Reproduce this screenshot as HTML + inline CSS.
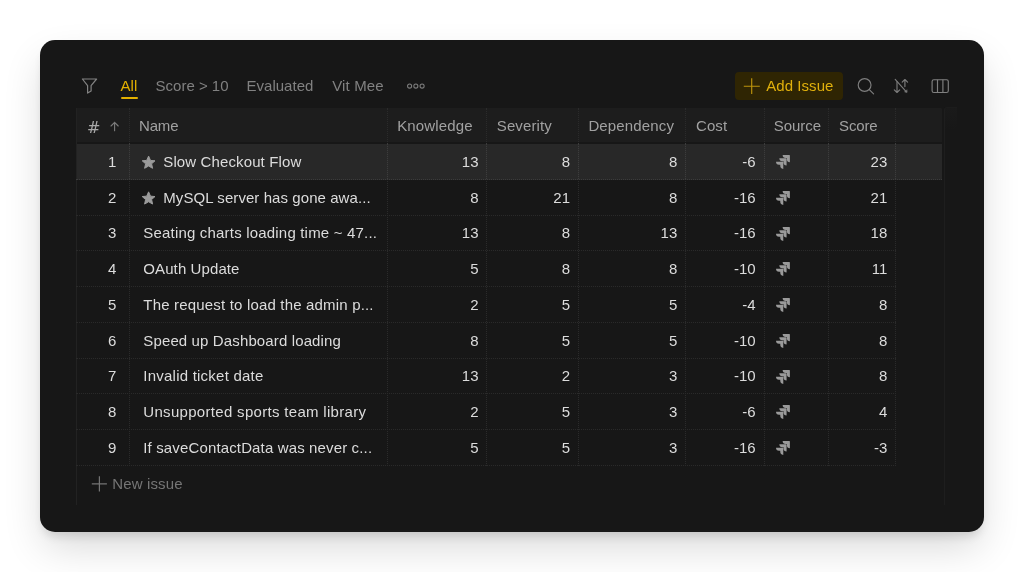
<!DOCTYPE html>
<html><head><meta charset="utf-8"><title>Issues</title>
<style>
*{box-sizing:border-box;margin:0;padding:0}
html,body{width:1024px;height:572px;background:#fff;overflow:hidden}
body{font-family:"Liberation Sans",sans-serif;font-size:15px;position:relative;color:#ddd}
.card{position:absolute;left:40px;top:40px;width:943.6px;height:491.6px;background:#171717;border-radius:15px;
box-shadow:0 18px 40px -4px rgba(0,0,0,.16),0 7px 10px -3px rgba(0,0,0,.12)}
.a{position:absolute}
.t{position:absolute;height:18px;line-height:18px;white-space:nowrap;font-size:15px}
.tab{color:#818181;top:77px}
.act{color:#e3b000}
.ht{color:#a1a1a1;top:116.6px;letter-spacing:.15px}
.c{color:#dcdcdc;letter-spacing:.12px}
.n{color:#dcdcdc;text-align:right;width:60px}
.v{position:absolute;top:108px;width:0;height:357.5px;border-left:1px dotted #2b2b2b}
.h{position:absolute;left:76px;height:0;width:820px;border-top:1px dotted #2a2a2a}
svg{position:absolute;overflow:visible}
</style></head><body>
<div class="card"></div>
<svg style="left:0;top:0" width="1024" height="572" viewBox="0 0 1024 572" fill="none">
<path d="M82.4 79 H96.6 L91.1 85.6 V91 L87.6 93.1 V85.6 Z" stroke="#838383" stroke-width="1.2" stroke-linejoin="round"/>
<circle cx="409.6" cy="86.1" r="2.05" stroke="#7d7d7d" stroke-width="1.05"/>
<circle cx="415.85" cy="86.1" r="2.05" stroke="#7d7d7d" stroke-width="1.05"/>
<circle cx="422.1" cy="86.1" r="2.05" stroke="#7d7d7d" stroke-width="1.05"/>
<circle cx="864.6" cy="85" r="6.4" stroke="#7e7e7e" stroke-width="1.15"/><path d="M869.3 89.7 L873.6 93.8" stroke="#7e7e7e" stroke-width="1.15" stroke-linecap="round"/>
<g stroke="#7c7c7c" stroke-width="1.15" stroke-linecap="round" stroke-linejoin="round"><path d="M897 81.5 V92.3 M894.3 89.8 L897 92.5 L899.7 89.8"/><path d="M904.9 86.6 V79.6 M902.2 82.2 L904.9 79.5 L907.6 82.2"/><path d="M895.2 79.4 L906.4 91.8"/><path d="M906.8 92.2 L904.6 92 L906.6 90 Z" fill="#7c7c7c" stroke-width=".6"/></g>
<rect x="932.1" y="79.7" width="16.2" height="12.8" rx="1.8" stroke="#808080" stroke-width="1.15"/><path d="M937.5 79.7 V92.5 M942.9 79.7 V92.5" stroke="#808080" stroke-width="1.15"/>
</svg>
<div class="t tab act" style="left:120.6px">All</div>
<div class="a" style="left:120.5px;top:97px;width:17.2px;height:2px;background:#e3b000;border-radius:1px"></div>
<div class="t tab" style="left:155.6px">Score &gt; 10</div>
<div class="t tab" style="left:246.6px">Evaluated</div>
<div class="t tab" style="left:332.2px;letter-spacing:.15px">Vit Mee</div>
<div class="a" style="left:734.5px;top:72px;width:108.8px;height:28px;background:#2f2503;border-radius:4px"></div>
<svg style="left:0;top:0" width="1024" height="572" viewBox="0 0 1024 572"><path d="M743.8 86.2 H759.8 M751.7 78.2 V94" stroke="#bd940c" stroke-width="1.15"/></svg>
<div class="t" style="left:766.2px;top:77px;color:#e0b00c;letter-spacing:.06px">Add Issue</div>
<div class="a" style="left:76px;top:108px;width:866.4px;height:34.2px;background:#1d1d1d;border-radius:1px 1px 0 0"></div>
<div class="a" style="left:76px;top:143.5px;width:866.4px;height:36.50px;background:#282828"></div>
<div class="a" style="left:944px;top:106.5px;width:13px;height:398px;border-left:1px solid #1e1e1e;border-top:1px solid #1c1c1c;border-radius:3px 0 0 0;background:linear-gradient(#1a1a1a,#171717 22px)"></div>
<div class="a" style="left:76px;top:108px;width:1px;height:396.5px;background:#222"></div>
<div class="v" style="left:128.5px;height:358px"></div>
<div class="v" style="left:386.5px;height:358px"></div>
<div class="v" style="left:486.0px;height:358px"></div>
<div class="v" style="left:578.0px;height:358px"></div>
<div class="v" style="left:685.0px;height:358px"></div>
<div class="v" style="left:763.5px;height:358px"></div>
<div class="v" style="left:828.0px;height:358px"></div>
<div class="v" style="left:895.0px;height:358px"></div>
<div class="h" style="top:179px"></div>
<div class="h" style="top:215px"></div>
<div class="h" style="top:250px"></div>
<div class="h" style="top:286px"></div>
<div class="h" style="top:322px"></div>
<div class="h" style="top:358px"></div>
<div class="h" style="top:393px"></div>
<div class="h" style="top:429px"></div>
<div class="h" style="top:465px"></div>
<div class="h" style="top:179px;width:866.4px;border-top-color:#3c3c3c"></div>
<div class="v" style="left:128.5px;top:143px;height:36px;border-left-color:#3c3c3c"></div>
<div class="v" style="left:386.5px;top:143px;height:36px;border-left-color:#3c3c3c"></div>
<div class="v" style="left:486.0px;top:143px;height:36px;border-left-color:#3c3c3c"></div>
<div class="v" style="left:578.0px;top:143px;height:36px;border-left-color:#3c3c3c"></div>
<div class="v" style="left:685.0px;top:143px;height:36px;border-left-color:#3c3c3c"></div>
<div class="v" style="left:763.5px;top:143px;height:36px;border-left-color:#3c3c3c"></div>
<div class="v" style="left:828.0px;top:143px;height:36px;border-left-color:#3c3c3c"></div>
<div class="v" style="left:895.0px;top:143px;height:36px;border-left-color:#3c3c3c"></div>
<div class="t" style="left:87.3px;top:119.3px;color:#a8a8a8;font-family:'DejaVu Sans',sans-serif;font-size:15.2px;letter-spacing:0;transform:scaleX(1.06);transform-origin:0 50%">#</div>
<svg style="left:0;top:0" width="1024" height="572" viewBox="0 0 1024 572" fill="none"><path d="M114.6 130.8 V122.4 M111 126 L114.6 122.3 L118.2 126" stroke="#7c7c7c" stroke-width="1.1" stroke-linecap="round" stroke-linejoin="round"/></svg>
<div class="t ht" style="left:139px;letter-spacing:-0.15px">Name</div>
<div class="t ht" style="left:397.2px;letter-spacing:0.16px">Knowledge</div>
<div class="t ht" style="left:496.8px;letter-spacing:0.11px">Severity</div>
<div class="t ht" style="left:588.4px;letter-spacing:0.15px">Dependency</div>
<div class="t ht" style="left:696px;letter-spacing:0.09px">Cost</div>
<div class="t ht" style="left:773.8px;letter-spacing:-0.04px">Source</div>
<div class="t ht" style="left:839px;letter-spacing:-0.12px">Score</div>
<div class="t n" style="left:56.400000000000006px;top:152.95px">1</div>
<svg style="left:0;top:0" width="1024" height="572" viewBox="0 0 1024 572"><path transform="translate(148.6 162.70)" d="M0 -6.6 L1.9 -2.3 L6.4 -1.9 L3 1.1 L4 5.6 L0 3.3 L-4 5.6 L-3 1.1 L-6.4 -1.9 L-1.9 -2.3 Z" fill="#9b9b9b" stroke="#9b9b9b" stroke-width="1" stroke-linejoin="round"/></svg>
<div class="t c" style="left:163.3px;top:152.95px;letter-spacing:0.12px">Slow Checkout Flow</div>
<div class="t n" style="left:418.5px;top:152.95px">13</div>
<div class="t n" style="left:510.0px;top:152.95px">8</div>
<div class="t n" style="left:617.3px;top:152.95px">8</div>
<div class="t n" style="left:695.7px;top:152.95px">-6</div>
<div class="t n" style="left:827.3px;top:152.95px">23</div>
<svg style="left:775.5px;top:155.10px" width="13.9" height="13.9" viewBox="0 0 24 24"><path d="M11.571 11.513H0a5.218 5.218 0 0 0 5.232 5.215h2.13v2.057A5.215 5.215 0 0 0 12.575 24V12.518a1.005 1.005 0 0 0-1.005-1.005zm5.723-5.756H5.736a5.215 5.215 0 0 0 5.215 5.214h2.129v2.058a5.218 5.218 0 0 0 5.215 5.214V6.758a1.001 1.001 0 0 0-1.001-1.001zM23.013 0H11.455a5.215 5.215 0 0 0 5.215 5.215h2.129v2.057A5.215 5.215 0 0 0 24 12.483V1.005A1.001 1.001 0 0 0 23.013 0Z" fill="#9a9a9a"/></svg>
<div class="t n" style="left:56.400000000000006px;top:188.70px">2</div>
<svg style="left:0;top:0" width="1024" height="572" viewBox="0 0 1024 572"><path transform="translate(148.6 198.45)" d="M0 -6.6 L1.9 -2.3 L6.4 -1.9 L3 1.1 L4 5.6 L0 3.3 L-4 5.6 L-3 1.1 L-6.4 -1.9 L-1.9 -2.3 Z" fill="#9b9b9b" stroke="#9b9b9b" stroke-width="1" stroke-linejoin="round"/></svg>
<div class="t c" style="left:163.3px;top:188.70px;letter-spacing:0.07px">MySQL server has gone awa...</div>
<div class="t n" style="left:418.5px;top:188.70px">8</div>
<div class="t n" style="left:510.0px;top:188.70px">21</div>
<div class="t n" style="left:617.3px;top:188.70px">8</div>
<div class="t n" style="left:695.7px;top:188.70px">-16</div>
<div class="t n" style="left:827.3px;top:188.70px">21</div>
<svg style="left:775.5px;top:190.85px" width="13.9" height="13.9" viewBox="0 0 24 24"><path d="M11.571 11.513H0a5.218 5.218 0 0 0 5.232 5.215h2.13v2.057A5.215 5.215 0 0 0 12.575 24V12.518a1.005 1.005 0 0 0-1.005-1.005zm5.723-5.756H5.736a5.215 5.215 0 0 0 5.215 5.214h2.129v2.058a5.218 5.218 0 0 0 5.215 5.214V6.758a1.001 1.001 0 0 0-1.001-1.001zM23.013 0H11.455a5.215 5.215 0 0 0 5.215 5.215h2.129v2.057A5.215 5.215 0 0 0 24 12.483V1.005A1.001 1.001 0 0 0 23.013 0Z" fill="#9a9a9a"/></svg>
<div class="t n" style="left:56.400000000000006px;top:224.45px">3</div>
<div class="t c" style="left:143.3px;top:224.45px;letter-spacing:0.19px">Seating charts loading time ~ 47...</div>
<div class="t n" style="left:418.5px;top:224.45px">13</div>
<div class="t n" style="left:510.0px;top:224.45px">8</div>
<div class="t n" style="left:617.3px;top:224.45px">13</div>
<div class="t n" style="left:695.7px;top:224.45px">-16</div>
<div class="t n" style="left:827.3px;top:224.45px">18</div>
<svg style="left:775.5px;top:226.60px" width="13.9" height="13.9" viewBox="0 0 24 24"><path d="M11.571 11.513H0a5.218 5.218 0 0 0 5.232 5.215h2.13v2.057A5.215 5.215 0 0 0 12.575 24V12.518a1.005 1.005 0 0 0-1.005-1.005zm5.723-5.756H5.736a5.215 5.215 0 0 0 5.215 5.214h2.129v2.058a5.218 5.218 0 0 0 5.215 5.214V6.758a1.001 1.001 0 0 0-1.001-1.001zM23.013 0H11.455a5.215 5.215 0 0 0 5.215 5.215h2.129v2.057A5.215 5.215 0 0 0 24 12.483V1.005A1.001 1.001 0 0 0 23.013 0Z" fill="#9a9a9a"/></svg>
<div class="t n" style="left:56.400000000000006px;top:260.20px">4</div>
<div class="t c" style="left:143.3px;top:260.20px;letter-spacing:0.1px">OAuth Update</div>
<div class="t n" style="left:418.5px;top:260.20px">5</div>
<div class="t n" style="left:510.0px;top:260.20px">8</div>
<div class="t n" style="left:617.3px;top:260.20px">8</div>
<div class="t n" style="left:695.7px;top:260.20px">-10</div>
<div class="t n" style="left:827.3px;top:260.20px">11</div>
<svg style="left:775.5px;top:262.35px" width="13.9" height="13.9" viewBox="0 0 24 24"><path d="M11.571 11.513H0a5.218 5.218 0 0 0 5.232 5.215h2.13v2.057A5.215 5.215 0 0 0 12.575 24V12.518a1.005 1.005 0 0 0-1.005-1.005zm5.723-5.756H5.736a5.215 5.215 0 0 0 5.215 5.214h2.129v2.058a5.218 5.218 0 0 0 5.215 5.214V6.758a1.001 1.001 0 0 0-1.001-1.001zM23.013 0H11.455a5.215 5.215 0 0 0 5.215 5.215h2.129v2.057A5.215 5.215 0 0 0 24 12.483V1.005A1.001 1.001 0 0 0 23.013 0Z" fill="#9a9a9a"/></svg>
<div class="t n" style="left:56.400000000000006px;top:295.95px">5</div>
<div class="t c" style="left:143.3px;top:295.95px;letter-spacing:0.18px">The request to load the admin p...</div>
<div class="t n" style="left:418.5px;top:295.95px">2</div>
<div class="t n" style="left:510.0px;top:295.95px">5</div>
<div class="t n" style="left:617.3px;top:295.95px">5</div>
<div class="t n" style="left:695.7px;top:295.95px">-4</div>
<div class="t n" style="left:827.3px;top:295.95px">8</div>
<svg style="left:775.5px;top:298.10px" width="13.9" height="13.9" viewBox="0 0 24 24"><path d="M11.571 11.513H0a5.218 5.218 0 0 0 5.232 5.215h2.13v2.057A5.215 5.215 0 0 0 12.575 24V12.518a1.005 1.005 0 0 0-1.005-1.005zm5.723-5.756H5.736a5.215 5.215 0 0 0 5.215 5.214h2.129v2.058a5.218 5.218 0 0 0 5.215 5.214V6.758a1.001 1.001 0 0 0-1.001-1.001zM23.013 0H11.455a5.215 5.215 0 0 0 5.215 5.215h2.129v2.057A5.215 5.215 0 0 0 24 12.483V1.005A1.001 1.001 0 0 0 23.013 0Z" fill="#9a9a9a"/></svg>
<div class="t n" style="left:56.400000000000006px;top:331.70px">6</div>
<div class="t c" style="left:143.3px;top:331.70px;letter-spacing:0.13px">Speed up Dashboard loading</div>
<div class="t n" style="left:418.5px;top:331.70px">8</div>
<div class="t n" style="left:510.0px;top:331.70px">5</div>
<div class="t n" style="left:617.3px;top:331.70px">5</div>
<div class="t n" style="left:695.7px;top:331.70px">-10</div>
<div class="t n" style="left:827.3px;top:331.70px">8</div>
<svg style="left:775.5px;top:333.85px" width="13.9" height="13.9" viewBox="0 0 24 24"><path d="M11.571 11.513H0a5.218 5.218 0 0 0 5.232 5.215h2.13v2.057A5.215 5.215 0 0 0 12.575 24V12.518a1.005 1.005 0 0 0-1.005-1.005zm5.723-5.756H5.736a5.215 5.215 0 0 0 5.215 5.214h2.129v2.058a5.218 5.218 0 0 0 5.215 5.214V6.758a1.001 1.001 0 0 0-1.001-1.001zM23.013 0H11.455a5.215 5.215 0 0 0 5.215 5.215h2.129v2.057A5.215 5.215 0 0 0 24 12.483V1.005A1.001 1.001 0 0 0 23.013 0Z" fill="#9a9a9a"/></svg>
<div class="t n" style="left:56.400000000000006px;top:367.45px">7</div>
<div class="t c" style="left:143.3px;top:367.45px;letter-spacing:0.23px">Invalid ticket date</div>
<div class="t n" style="left:418.5px;top:367.45px">13</div>
<div class="t n" style="left:510.0px;top:367.45px">2</div>
<div class="t n" style="left:617.3px;top:367.45px">3</div>
<div class="t n" style="left:695.7px;top:367.45px">-10</div>
<div class="t n" style="left:827.3px;top:367.45px">8</div>
<svg style="left:775.5px;top:369.60px" width="13.9" height="13.9" viewBox="0 0 24 24"><path d="M11.571 11.513H0a5.218 5.218 0 0 0 5.232 5.215h2.13v2.057A5.215 5.215 0 0 0 12.575 24V12.518a1.005 1.005 0 0 0-1.005-1.005zm5.723-5.756H5.736a5.215 5.215 0 0 0 5.215 5.214h2.129v2.058a5.218 5.218 0 0 0 5.215 5.214V6.758a1.001 1.001 0 0 0-1.001-1.001zM23.013 0H11.455a5.215 5.215 0 0 0 5.215 5.215h2.129v2.057A5.215 5.215 0 0 0 24 12.483V1.005A1.001 1.001 0 0 0 23.013 0Z" fill="#9a9a9a"/></svg>
<div class="t n" style="left:56.400000000000006px;top:403.20px">8</div>
<div class="t c" style="left:143.3px;top:403.20px;letter-spacing:0.31px">Unsupported sports team library</div>
<div class="t n" style="left:418.5px;top:403.20px">2</div>
<div class="t n" style="left:510.0px;top:403.20px">5</div>
<div class="t n" style="left:617.3px;top:403.20px">3</div>
<div class="t n" style="left:695.7px;top:403.20px">-6</div>
<div class="t n" style="left:827.3px;top:403.20px">4</div>
<svg style="left:775.5px;top:405.35px" width="13.9" height="13.9" viewBox="0 0 24 24"><path d="M11.571 11.513H0a5.218 5.218 0 0 0 5.232 5.215h2.13v2.057A5.215 5.215 0 0 0 12.575 24V12.518a1.005 1.005 0 0 0-1.005-1.005zm5.723-5.756H5.736a5.215 5.215 0 0 0 5.215 5.214h2.129v2.058a5.218 5.218 0 0 0 5.215 5.214V6.758a1.001 1.001 0 0 0-1.001-1.001zM23.013 0H11.455a5.215 5.215 0 0 0 5.215 5.215h2.129v2.057A5.215 5.215 0 0 0 24 12.483V1.005A1.001 1.001 0 0 0 23.013 0Z" fill="#9a9a9a"/></svg>
<div class="t n" style="left:56.400000000000006px;top:438.95px">9</div>
<div class="t c" style="left:143.3px;top:438.95px;letter-spacing:0.14px">If saveContactData was never c...</div>
<div class="t n" style="left:418.5px;top:438.95px">5</div>
<div class="t n" style="left:510.0px;top:438.95px">5</div>
<div class="t n" style="left:617.3px;top:438.95px">3</div>
<div class="t n" style="left:695.7px;top:438.95px">-16</div>
<div class="t n" style="left:827.3px;top:438.95px">-3</div>
<svg style="left:775.5px;top:441.10px" width="13.9" height="13.9" viewBox="0 0 24 24"><path d="M11.571 11.513H0a5.218 5.218 0 0 0 5.232 5.215h2.13v2.057A5.215 5.215 0 0 0 12.575 24V12.518a1.005 1.005 0 0 0-1.005-1.005zm5.723-5.756H5.736a5.215 5.215 0 0 0 5.215 5.214h2.129v2.058a5.218 5.218 0 0 0 5.215 5.214V6.758a1.001 1.001 0 0 0-1.001-1.001zM23.013 0H11.455a5.215 5.215 0 0 0 5.215 5.215h2.129v2.057A5.215 5.215 0 0 0 24 12.483V1.005A1.001 1.001 0 0 0 23.013 0Z" fill="#9a9a9a"/></svg>
<svg style="left:0;top:0" width="1024" height="572" viewBox="0 0 1024 572"><path d="M91.8 483.8 H106.9 M99.4 476.2 V491.4" stroke="#747474" stroke-width="1.2"/></svg>
<div class="t" style="left:112.2px;top:475px;color:#757575;letter-spacing:.14px">New issue</div>
</body></html>
